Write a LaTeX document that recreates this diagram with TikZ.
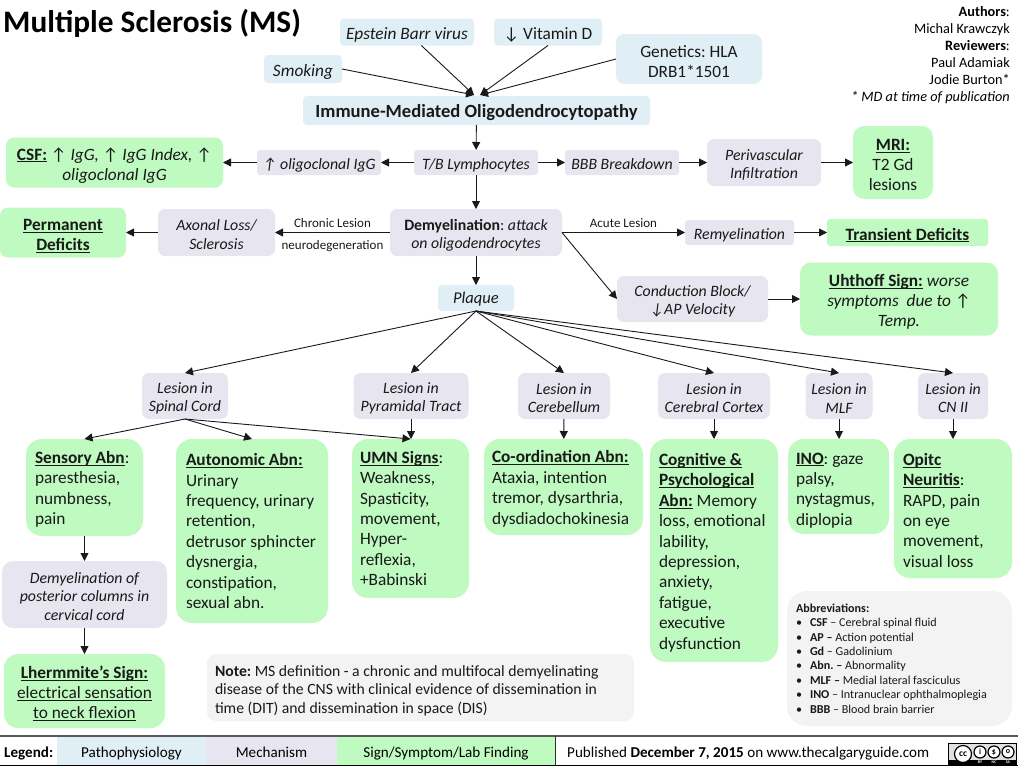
\documentclass[tikz,border=0pt]{standalone}
\usepackage{amsmath,amssymb}
\usepackage{fontspec}
\setmainfont{Carlito}
\usetikzlibrary{positioning,calc,arrows.meta}

\definecolor{pathoblue}{HTML}{DFEFF5}
\definecolor{mechgray}{HTML}{E7E5EF}
\definecolor{signgreen}{HTML}{BFFBC1}
\definecolor{notegray}{HTML}{F3F3F3}

\newcommand{\ulin}[1]{\leavevmode\setbox0\hbox{#1}\rlap{\rule[-0.14em]{\wd0}{0.065em}}\box0\relax}
\newcommand{\ubf}[1]{\ulin{\textbf{#1}}}

\tikzset{
    boxsize/.style 2 args={minimum width=#1pt,minimum height=#2pt,text width=#1pt},
    textdrop/.store in=\nodedrop,
    textdrop=17pt,
    basebox/.style={inner sep=0pt,outer sep=0pt,align=flush center,text=black!90,execute at begin node={\leavevmode\vrule width 0pt height \nodedrop depth 3pt\relax}},
    bluebox/.style={basebox,fill=pathoblue,rounded corners=4pt},
    mechbox/.style={basebox,fill=mechgray,rounded corners=5pt,textdrop=15.5pt,font=\fontsize{15.8}{18.5}\selectfont\itshape},
    mechline/.style={mechbox,rounded corners=3pt,textdrop=17.5pt},
    signbox/.style={basebox,fill=signgreen,rounded corners=11pt,textdrop=18pt,font=\fontsize{17.3}{20}\selectfont},
    leftbox/.style={signbox,rounded corners=16pt,align=flush left,textdrop=0pt,text width=#1pt,font=\fontsize{17.3}{20.4}\selectfont},
    arr/.style={-{Triangle[length=8pt,width=8pt]},line width=0.9pt,black!90},
    edgetext/.style={font=\fontsize{13}{14}\selectfont,inner sep=2.5pt},
    credit/.style={anchor=base east,inner sep=0pt,font=\fontsize{14.3}{16}\selectfont},
    legendcell/.style={inner sep=0pt,outer sep=0pt,minimum height=29pt,text height=15pt,text depth=2pt,font=\fontsize{15.1}{18}\selectfont},
    ccring/.style={draw=black,fill=white,line width=1.2pt,circle,inner sep=0pt}
}

\begin{document}
\frenchspacing
\begin{tikzpicture}[x=1pt,y=-1pt]
    \useasboundingbox (0,0) rectangle (1018,766);

    \node[anchor=base west,inner sep=0pt,font=\fontsize{31.3}{34}\selectfont\bfseries] (title) at (3,32) {Multiple Sclerosis (MS)};

    \node[credit] (auth1) at (1010,16) {\textbf{Authors}:};
    \node[credit] (auth2) at (1010,33) {Michal Krawczyk};
    \node[credit] (auth3) at (1010,50) {\textbf{Reviewers}:};
    \node[credit] (auth4) at (1010,67) {Paul Adamiak};
    \node[credit] (auth5) at (1010,84) {Jodie Burton*};
    \node[credit] (auth6) at (1010,101) {\textit{* MD at time of publication}};

    % risk factors
    \node[bluebox,boxsize={134}{27},font=\fontsize{17.3}{19}\selectfont\itshape] (epstein) at (407,32) {Epstein Barr virus};
    \node[bluebox,boxsize={78}{28},font=\fontsize{17.3}{19}\selectfont\itshape] (smoking) at (303,69) {Smoking};
    \node[bluebox,boxsize={108}{27},font=\fontsize{17.3}{19}\selectfont] (vitamin) at (548,32) {↓ Vitamin D};
    \node[bluebox,boxsize={146}{50},rounded corners=8pt,font=\fontsize{17.3}{20}\selectfont] (genetics) at (689,59) {Genetics: HLA\\DRB1*1501};
    \node[bluebox,boxsize={347}{29},textdrop=18pt,font=\fontsize{18.6}{21}\selectfont\bfseries] (immune) at (476.5,110.5) {Immune-Mediated Oligodendrocytopathy};

    % upper row
    \node[signbox,boxsize={217}{50},rounded corners=8pt] (csf) at (114.5,162.5) {\ubf{CSF:} ↑ \textit{IgG,} ↑ \textit{IgG Index,} ↑\\\textit{oligoclonal IgG}};
    \node[mechline,boxsize={124}{25}] (oligo) at (319,162.5) {↑ oligoclonal IgG};
    \node[mechline,boxsize={124}{25}] (lympho) at (476,162.5) {T/B Lymphocytes};
    \node[mechline,boxsize={114}{25}] (bbb) at (622,162.5) {BBB Breakdown};
    \node[mechbox,boxsize={114}{47},rounded corners=7pt] (perivasc) at (764,162.5) {Perivascular\\Infiltration};
    \node[signbox,boxsize={80}{73},textdrop=17pt] (mri) at (893,162.5) {\ubf{MRI:}\\T2 Gd\\lesions};

    % middle row
    \node[signbox,boxsize={126}{50},rounded corners=8pt,textdrop=19pt] (permanent) at (63,232.5) {\ubf{Permanent}\\\ubf{Deficits}};
    \node[mechbox,boxsize={117}{47},rounded corners=7pt] (axonal) at (216.5,232.5) {Axonal Loss/\\Sclerosis};
    \node[mechbox,boxsize={172}{47},rounded corners=7pt,textdrop=17pt] (demyel) at (476,232.5) {\textbf{\upshape Demyelination}{\upshape:} attack\\on oligodendrocytes};
    \node[mechline,boxsize={109}{25}] (remyel) at (739.5,232.5) {Remyelination};
    \node[signbox,boxsize={161}{27},rounded corners=3pt] (transient) at (907.5,232.5) {\ubf{Transient Deficits}};
    \node[mechbox,boxsize={151}{46},rounded corners=7pt] (conduction) at (692.5,299) {Conduction Block/\\↓AP Velocity};
    \node[signbox,boxsize={198}{73}] (uhthoff) at (899,299) {\ubf{Uhthoff Sign:} \textit{worse}\\\textit{symptoms\ \ due to} ↑\\\textit{Temp.}};
    \node[bluebox,boxsize={76}{26},textdrop=13pt,font=\fontsize{16.5}{19}\selectfont\itshape] (plaque) at (476,298) {Plaque};

    % lesion sites
    \node[mechbox,boxsize={86}{46},rounded corners=7pt] (spinal) at (185,396) {Lesion in\\Spinal Cord};
    \node[mechbox,boxsize={115}{46},rounded corners=7pt] (pyramidal) at (411,396) {Lesion in\\Pyramidal Tract};
    \node[mechbox,boxsize={92}{46},rounded corners=7pt] (cerebellum) at (564,396) {Lesion in\\Cerebellum};
    \node[mechbox,boxsize={112}{46},rounded corners=7pt] (cortex) at (714,396) {Lesion in\\Cerebral Cortex};
    \node[mechbox,boxsize={67}{46},rounded corners=7pt] (mlf) at (839,396) {Lesion in\\MLF};
    \node[mechbox,boxsize={70}{46},rounded corners=7pt] (cnii) at (953,396) {Lesion in\\CN II};

    % findings
    \node[boxsize={117}{97},leftbox=99,textdrop=15.6pt] (sensory) at (84.5,487.5) {\ubf{Sensory Abn}:\\paresthesia,\\numbness,\\pain};
    \node[boxsize={152}{184},leftbox=132] (autonomic) at (252,531) {\ubf{Autonomic Abn:}\\Urinary\\frequency, urinary\\retention,\\detrusor sphincter\\dysnergia,\\constipation,\\sexual abn.};
    \node[boxsize={117}{159},leftbox=101] (umn) at (410.5,518.5) {\ubf{UMN Signs}:\\Weakness,\\Spasticity,\\movement,\\Hyper-\\reflexia,\\+Babinski};
    \node[boxsize={159}{96},leftbox=143,textdrop=15.6pt] (coord) at (563.5,487) {\ubf{Co-ordination Abn:}\\Ataxia, intention\\tremor, dysarthria,\\dysdiadochokinesia};
    \node[boxsize={128}{223},leftbox=110,textdrop=16.5pt] (cognitive) at (714,550.5) {\ubf{Cognitive \&}\\\ubf{Psychological}\\\ubf{Abn:} Memory\\loss, emotional\\lability,\\depression,\\anxiety,\\fatigue,\\executive\\dysfunction};
    \node[boxsize={101}{95},leftbox=85,textdrop=19pt] (ino) at (838.5,486.5) {\ubf{INO}: gaze\\palsy,\\nystagmus,\\diplopia};
    \node[boxsize={118}{139},leftbox=100,textdrop=15.6pt] (optic) at (953,508.5) {\ubf{Opitc}\\\ubf{Neuritis}:\\RAPD, pain\\on eye\\movement,\\visual loss};
    \node[mechbox,boxsize={165}{67},rounded corners=11pt,textdrop=15pt] (posterior) at (84.5,594.5) {Demyelination of\\posterior columns in\\cervical cord};
    \node[signbox,boxsize={161}{74},rounded corners=14pt,textdrop=17pt] (lhermitte) at (84.5,691) {\ubf{Lhermmite’s Sign:}\\\ulin{electrical sensation}\\\ulin{to neck flexion}};

    % note and abbreviations
    \node[basebox,fill=notegray,rounded corners=9pt,boxsize={427}{67},align=flush left,text width=411pt,textdrop=17pt,font=\fontsize{15.7}{18.5}\selectfont] (note) at (420.5,687.5) {\textbf{Note:} MS definition - a chronic and multifocal demyelinating\\disease of the CNS with clinical evidence of dissemination in\\time (DIT) and dissemination in space (DIS)};
    \node[basebox,fill=notegray,rounded corners=20pt,boxsize={225}{135},align=flush left,text width=207pt,textdrop=0pt,font=\fontsize{12.1}{14.4}\selectfont] (abbrev) at (899.5,658.5) {\textbf{Abbreviations:}\\
        \textbullet\hspace{8pt}\textbf{CSF} – Cerebral spinal fluid\\
        \textbullet\hspace{8pt}\textbf{AP –} Action potential\\
        \textbullet\hspace{8pt}\textbf{Gd} – Gadolinium\\
        \textbullet\hspace{8pt}\textbf{Abn. –} Abnormality\\
        \textbullet\hspace{8pt}\textbf{MLF –} Medial lateral fasciculus\\
        \textbullet\hspace{8pt}\textbf{INO} – Intranuclear ophthalmoplegia\\
        \textbullet\hspace{8pt}\textbf{BBB} – Blood brain barrier};

    % connectors
    \coordinate (immuneleft) at (474,95);
    \coordinate (immuneright) at (480,95);
    \draw[arr] (smoking.east) -- (immuneleft);
    \draw[arr] (epstein) -- (immuneleft);
    \draw[arr] (vitamin.south) -- (immuneright);
    \draw[arr] (genetics.west) -- (immuneright);
    \draw[arr] (immune) -- (lympho);
    \draw[arr] (lympho) -- (oligo);
    \draw[arr] (oligo) -- (csf);
    \draw[arr] (lympho) -- (bbb);
    \draw[arr] (bbb) -- (perivasc);
    \draw[arr] (perivasc) -- (mri);
    \draw[arr] (lympho) -- (demyel);
    \draw[arr] (demyel) -- node[midway,above,edgetext,yshift=1.5pt]{Chronic Lesion} node[midway,below,edgetext,yshift=-5pt]{neurodegeneration} (axonal);
    \draw[arr] (axonal) -- (permanent);
    \draw[arr] (demyel) -- node[midway,above,edgetext,yshift=1.5pt]{Acute Lesion} (remyel);
    \draw[arr] (remyel) -- (transient);
    \draw[arr] (demyel.east) -- (conduction.west);
    \draw[arr] (conduction) -- (uhthoff);
    \draw[arr] (demyel) -- (plaque);
    \foreach \site in {spinal,pyramidal,cerebellum,cortex,mlf,cnii}{
        \draw[arr] (plaque.south) -- (\site.north);
    }
    \draw[arr] (spinal.south) -- (sensory.north);
    \draw[arr] (spinal.south) -- (autonomic.north);
    \draw[arr] (spinal.south) -- (umn.north);
    \draw[arr] (pyramidal) -- (pyramidal |- umn.north);
    \draw[arr] (cerebellum) -- (coord);
    \draw[arr] (cortex) -- (cognitive);
    \draw[arr] (mlf) -- (mlf |- ino.north);
    \draw[arr] (cnii) -- (optic);
    \draw[arr] (sensory) -- (posterior);
    \draw[arr] (posterior) -- (lhermitte);

    % legend strip
    \node[legendcell,minimum width=149pt,fill=pathoblue] (legendpatho) at (131.5,751) {Pathophysiology};
    \node[legendcell,minimum width=131pt,fill=mechgray] (legendmech) at (271.5,751) {Mechanism};
    \node[legendcell,minimum width=218pt,fill=signgreen] (legendsign) at (446,751) {Sign/Symptom/Lab Finding};
    \node[anchor=base west,inner sep=0pt,font=\fontsize{15.1}{18}\selectfont\bfseries] (legendtitle) at (4,757.5) {Legend:};
    \node[anchor=base west,inner sep=0pt,font=\fontsize{15.1}{18}\selectfont] (published) at (567,757.5) {Published \textbf{December 7, 2015} on www.thecalgaryguide.com};
    \draw[black!65,line width=1.3pt] (0,736) -- (1018,736);
    \draw[black,line width=1.2pt] (0,765.4) -- (1018,765.4);
    \draw[black!80,line width=1pt] (555,736) -- (555,765);

    % licence badge
    \draw[black,fill=black!12,line width=0.8pt] (948,743) rectangle (1016,765);
    \fill[black] (948,760) rectangle (1016,765);
    \node[ccring,minimum size=17pt,font=\fontsize{9.5}{10}\selectfont\bfseries] (ccmark) at (963,754) {cc};
    \node[ccring,minimum size=12pt,font=\fontsize{8}{9}\selectfont\bfseries] (ccby) at (980,752) {i};
    \node[ccring,minimum size=12pt,font=\fontsize{8}{9}\selectfont\bfseries] (ccnc) at (994,752) {\$};
    \node[ccring,minimum size=12pt,font=\fontsize{8}{9}\selectfont\bfseries] (ccsa) at (1008,752) {o};
    \foreach \tag/\tagx in {BY/980,NC/994,SA/1008}{
        \node[text=white,inner sep=0pt,font=\fontsize{4}{4}\selectfont\bfseries] at (\tagx,762.6) {\tag};
    }
\end{tikzpicture}
\end{document}
